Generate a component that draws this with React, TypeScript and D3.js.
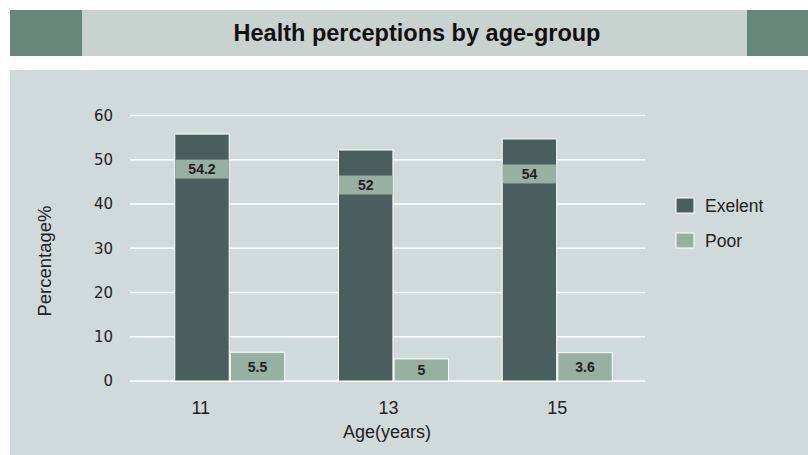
import * as d3 from 'd3'
import { useEffect } from 'react'

const ages = ['11', '13', '15']
const excellent = [55.8, 52.2, 54.7]
const excellentLabels = ['54.2', '52', '54']
const poor = [6.5, 5, 6.4]
const poorLabels = ['5.5', '5', '3.6']
const yTicks = [0, 10, 20, 30, 40, 50, 60]
const series = ['Exelent', 'Poor']

const colors = { Exelent: '#4a5e5f', Poor: '#97b0a2' }
const font = 'Arial, "Liberation Sans", sans-serif'

export default function App() {
    useEffect(() => {
        document.body.style.margin = '0'
    }, [])

    const x = d3.scaleBand()
        .domain(ages)
        .range([142, 645])
        .paddingInner(0.328)
        .paddingOuter(0.2)

    const inner = d3.scaleBand()
        .domain(series)
        .range([0, x.bandwidth()])
        .paddingInner(0.02)

    const y = d3.scaleLinear()
        .domain([0, 60])
        .range([381, 115.5])

    // tick labels in the original sit a little left of the group centres
    const tickNudge = [-29, -5, 0]

    return (
        <svg width={808} height={455} style={{ display: 'block' }} fontFamily={font}>
            <rect x={0} y={0} width={808} height={455} fill="#fff" />
            {/* title banner */}
            <rect x={10} y={10} width={798} height={46} fill="#c8d2ce" />
            <rect x={10} y={10} width={72} height={46} fill="#66877a" />
            <rect x={747} y={10} width={61} height={46} fill="#66877a" />
            <text x={417} y={41} textAnchor="middle" fontSize={23.5} fontWeight="bold" fill="#111">
                Health perceptions by age-group
            </text>

            {/* plot area */}
            <rect x={10} y={70} width={798} height={385} fill="#d1dadb" />

            {yTicks.map(t => (
                <g key={t}>
                    <line x1={130} x2={645} y1={y(t)} y2={y(t)} stroke="#fff" strokeWidth={1.5} />
                    <text x={113} y={y(t)} dy="0.35em" textAnchor="end" fontSize={15}
                          fontFamily='"DejaVu Sans", sans-serif' fill="#222">{t}</text>
                </g>
            ))}

            {ages.map((a, i) => {
                const gx = x(a)!
                const ex = gx + inner('Exelent')!
                const px = gx + inner('Poor')!
                const w = inner.bandwidth()
                const top = y(excellent[i])
                const boxY = top + 25.5
                return (
                    <g key={a}>
                        <rect x={ex} y={top} width={w} height={y(0) - top}
                              fill={colors.Exelent} stroke="#fff" strokeWidth={1} />
                        <rect x={ex + 0.5} y={boxY} width={w - 1} height={19} fill={colors.Poor} />
                        <text x={ex + w / 2} y={boxY + 9.5} dy="0.36em" textAnchor="middle"
                              fontSize={14} fontWeight="bold" fill="#222">{excellentLabels[i]}</text>
                        <rect x={px} y={y(poor[i])} width={w} height={y(0) - y(poor[i])}
                              fill={colors.Poor} stroke="#fff" strokeWidth={1} />
                        <text x={px + w / 2} y={(y(poor[i]) + y(0)) / 2} dy="0.36em" textAnchor="middle"
                              fontSize={14} fontWeight="bold" fill="#222">{poorLabels[i]}</text>
                        <text x={gx + x.bandwidth() / 2 + tickNudge[i]} y={408} dy="0.35em"
                              textAnchor="middle" fontSize={18} fill="#222">{a}</text>
                    </g>
                )
            })}

            <text x={387} y={432} dy="0.35em" textAnchor="middle" fontSize={18} fill="#222">Age(years)</text>
            <text transform="translate(45,261) rotate(-90)" dy="0.35em" textAnchor="middle"
                  fontSize={18.5} fill="#222">Percentage%</text>

            {series.map((s, i) => (
                <g key={s} transform={`translate(676,${198 + i * 35})`}>
                    <rect width={18} height={15} fill={colors[s as keyof typeof colors]} stroke="#fff" strokeWidth={1} />
                    <text x={29} y={7.5} dy="0.35em" fontSize={17.5} fill="#222">{s}</text>
                </g>
            ))}
        </svg>
    )
}
